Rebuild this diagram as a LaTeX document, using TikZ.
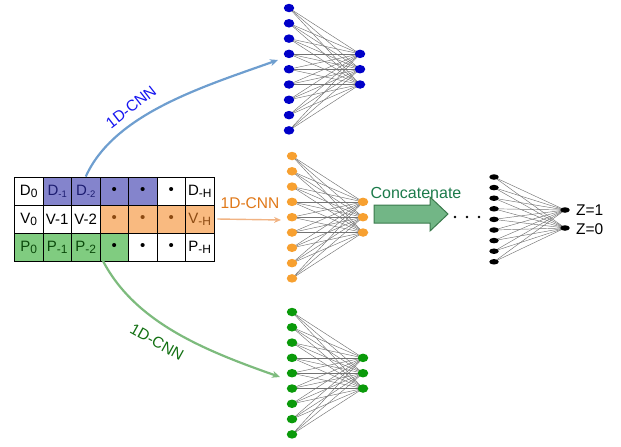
\documentclass[tikz,border=0pt]{standalone}
\usepackage{fontspec}
\setmainfont{Liberation Sans}
\usetikzlibrary{shapes.geometric,arrows.meta,backgrounds}
\definecolor{cellblue}{HTML}{8484CC}
\definecolor{cellorange}{HTML}{F9BA80}
\definecolor{cellgreen}{HTML}{80CC80}
\definecolor{txtblue}{HTML}{1C1C70}
\definecolor{txtorange}{HTML}{8C4A12}
\definecolor{txtgreen}{HTML}{0C4A0C}
\definecolor{netblue}{HTML}{0000C8}
\definecolor{netorange}{HTML}{F7A030}
\definecolor{netgreen}{HTML}{0A9A0A}
\definecolor{curveblue}{HTML}{6E9ECF}
\definecolor{curvegreen}{HTML}{7DBB7D}
\definecolor{arroworange}{HTML}{F1B383}
\definecolor{lblblue}{HTML}{1414F0}
\definecolor{lblorange}{HTML}{E07818}
\definecolor{lblgreen}{HTML}{127012}
\definecolor{concattxt}{HTML}{1B7A4A}
\definecolor{concatfill}{HTML}{72B686}
\definecolor{concatdark}{HTML}{3A7A4C}
\newcommand{\sbs}[1]{\raisebox{-2pt}{\fontsize{12}{13}\selectfont #1}}
\newcommand{\sbb}[1]{\raisebox{-2pt}{\fontsize{9.5}{10}\selectfont #1}}
\tikzset{
  cell/.style={draw=black, line width=0.8pt, minimum width=28.5pt, minimum height=28pt,
    inner sep=0pt, font=\fontsize{15}{17}\selectfont},
  bcell/.style={cell, fill=cellblue, text=txtblue},
  ocell/.style={cell, fill=cellorange, text=txtorange},
  gcell/.style={cell, fill=cellgreen, text=txtgreen},
  neuron/.style={ellipse, minimum width=10.5pt, minimum height=8.5pt, inner sep=0pt},
  bneuron/.style={neuron, fill=netblue},
  oneuron/.style={neuron, fill=netorange},
  gneuron/.style={neuron, fill=netgreen},
  kneuron/.style={ellipse, minimum width=9.5pt, minimum height=5.5pt, inner sep=0pt, fill=black},
  wire/.style={draw=black!55, line width=0.45pt},
  lbl/.style={font=\fontsize{15.5}{17}\selectfont, inner sep=0pt},
  dotnode/.style={circle, fill=black, minimum size=2.6pt, inner sep=0pt}
}
\begin{document}
\begin{tikzpicture}[x=1pt,y=-1pt]
\useasboundingbox (0,0) rectangle (621,447);
% ---------- table ----------
\node[cell]  (c00) at (28.75,191) {D\sbs{0}};
\node[bcell] (c01) at (57.25,191) {D\sbb{-1}};
\node[bcell] (c02) at (85.75,191) {D\sbb{-2}};
\node[bcell,text=black] (c03) at (114.25,191) {\textbullet};
\node[bcell,text=black] (c04) at (142.75,191) {\textbullet};
\node[cell]  (c05) at (171.25,191) {\textbullet};
\node[cell]  (c06) at (199.75,191) {D\sbs{-H}};
\node[cell]  (c10) at (28.75,219) {V\sbs{0}};
\node[cell]  (c11) at (57.25,219) {V-1};
\node[cell]  (c12) at (85.75,219) {V-2};
\node[ocell] (c13) at (114.25,219) {\textbullet};
\node[ocell] (c14) at (142.75,219) {\textbullet};
\node[ocell] (c15) at (171.25,219) {\textbullet};
\node[ocell] (c16) at (199.75,219) {V\sbs{-H}};
\node[gcell] (c20) at (28.75,247) {P\sbs{0}};
\node[gcell] (c21) at (57.25,247) {P\sbs{-1}};
\node[gcell] (c22) at (85.75,247) {P\sbs{-2}};
\node[gcell,text=black] (c23) at (114.25,247) {\textbullet};
\node[cell]  (c24) at (142.75,247) {\textbullet};
\node[cell]  (c25) at (171.25,247) {\textbullet};
\node[cell]  (c26) at (199.75,247) {P\sbs{-H}};
% ---------- networks ----------
\foreach \i in {1,...,9} {
  \node[bneuron] (T\i) at (289,{8+15.3*(\i-1)}) {};
  \node[oneuron] (M\i) at (292,{156+15.3*(\i-1)}) {};
  \node[gneuron] (B\i) at (292,{312+15.3*(\i-1)}) {};
  \node[kneuron] (F\i) at (494,{177+10.6*(\i-1)}) {};
}
\foreach \j in {1,2,3} {
  \node[bneuron] (TR\j) at (360,{8+15.3*(\j+2)}) {};
  \node[oneuron] (MR\j) at (363,{156+15.3*(\j+2)}) {};
  \node[gneuron] (BR\j) at (363,{312+15.3*(\j+2)}) {};
}
\node[kneuron] (FR1) at (565,210) {};
\node[kneuron] (FR2) at (565,228) {};
\begin{scope}[on background layer]
\foreach \i in {1,...,9} {
  \foreach \j in {1,2,3} {
    \draw[wire] (T\i.center) -- (TR\j.center);
    \draw[wire] (M\i.center) -- (MR\j.center);
    \draw[wire] (B\i.center) -- (BR\j.center);
  }
  \draw[wire] (F\i.center) -- (FR1.center);
  \draw[wire] (F\i.center) -- (FR2.center);
}
\end{scope}
\node[lbl, anchor=west] (z1) at (576,210) {Z=1};
\node[lbl, anchor=west] (z0) at (576,229) {Z=0};
% ---------- connectors ----------
\coordinate (topEnd) at (278,60);
\coordinate (botEnd) at (280,377);
\coordinate (midEnd) at (281,220);
\coordinate (botStart) at (103,261);
\draw[curveblue, line width=2.2pt, -{Stealth[length=8pt,width=7pt]}]
  (c02.north) .. controls (114,114) and (202,87) .. (topEnd);
\draw[curvegreen, line width=2.2pt, -{Stealth[length=8pt,width=7pt]}]
  (botStart) .. controls (135,322) and (203,350) .. (botEnd);
\draw[arroworange, line width=1.4pt, -{Stealth[length=7pt,width=6pt]}]
  ([xshift=3pt]c16.east) -- (midEnd);
\node[lbl, text=lblblue, rotate=38] (l1) at (131,107) {1D-CNN};
\node[lbl, text=lblorange] (l2) at (250,203) {1D-CNN};
\node[lbl, text=lblgreen, rotate=-29] (l3) at (157,342) {1D-CNN};
% ---------- concatenate ----------
\draw[draw=concatdark, fill=concatfill, line width=1pt]
  (374,205) -- (430,205) -- (430,197) -- (448,214) -- (430,231) -- (430,223) -- (374,223) -- cycle;
\node[lbl, text=concattxt, font=\fontsize{16}{18}\selectfont] (cc) at (416,193) {Concatenate};
\node[dotnode] (d1) at (455,217) {};
\node[dotnode] (d2) at (467,217) {};
\node[dotnode] (d3) at (479,217) {};
\end{tikzpicture}
\end{document}
